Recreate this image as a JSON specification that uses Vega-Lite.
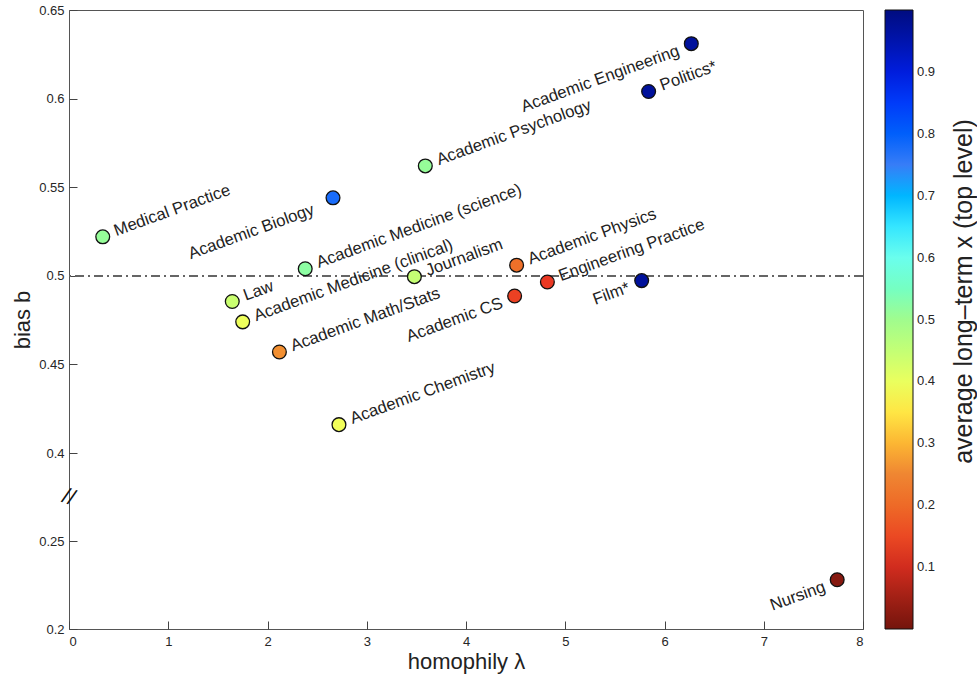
{
  "$schema": "https://vega.github.io/schema/vega-lite/v6.json",
  "width": 794,
  "height": 619,
  "autosize": "none",
  "padding": {"left": 69, "top": 10, "right": 114, "bottom": 47},
  "background": "white",
  "config": {
    "view": {"stroke": "#555", "strokeWidth": 1},
    "font": "Liberation Sans",
    "axis": {
      "domain": false,
      "grid": false,
      "ticks": true,
      "tickSize": -8,
      "tickColor": "#444",
      "tickWidth": 1,
      "labelFont": "Liberation Sans",
      "labelFontSize": 13,
      "labelColor": "#262626",
      "titleFont": "Liberation Sans",
      "titleFontSize": 22,
      "titleFontWeight": "normal",
      "titleColor": "#222"
    }
  },
  "resolve": {"axis": {"y": "independent"}},
  "data": {
    "values": [
      {"name": "Medical Practice", "lam": 0.34, "b": 0.522, "x": 0.51},
      {"name": "Academic Biology", "lam": 2.66, "b": 0.544, "x": 0.78},
      {"name": "Academic Psychology", "lam": 3.59, "b": 0.562, "x": 0.51},
      {"name": "Academic Engineering", "lam": 6.27, "b": 0.631, "x": 0.97},
      {"name": "Politics*", "lam": 5.84, "b": 0.604, "x": 0.97},
      {"name": "Academic Medicine (science)", "lam": 2.38, "b": 0.504, "x": 0.52},
      {"name": "Law", "lam": 1.645, "b": 0.4855, "x": 0.44},
      {"name": "Academic Medicine (clinical)", "lam": 1.75, "b": 0.474, "x": 0.395},
      {"name": "Academic Math/Stats", "lam": 2.12, "b": 0.457, "x": 0.26},
      {"name": "Academic Chemistry", "lam": 2.72, "b": 0.416, "x": 0.39},
      {"name": "Journalism", "lam": 3.48, "b": 0.4995, "x": 0.447},
      {"name": "Academic Physics", "lam": 4.51, "b": 0.506, "x": 0.21},
      {"name": "Academic CS", "lam": 4.49, "b": 0.4886, "x": 0.14},
      {"name": "Engineering Practice", "lam": 4.82, "b": 0.4965, "x": 0.13},
      {"name": "Film*", "lam": 5.77, "b": 0.4973, "x": 0.97},
      {"name": "Nursing", "lam": 7.74, "b": 0.228, "x": 0.02}
    ]
  },
  "encoding": {
    "x": {
      "field": "lam", "type": "quantitative",
      "scale": {"domain": [0, 8], "nice": false, "zero": false},
      "axis": {"title": "homophily λ", "values": [0,1,2,3,4,5,6,7,8], "format": "d", "labelPadding": 14, "titlePadding": 3}
    },
    "y": {
      "field": "b", "type": "quantitative",
      "scale": {"domain": [0.2, 0.25, 0.4, 0.65], "range": [619, 531, 443, 0], "nice": false, "zero": false},
      "axis": null
    }
  },
  "layer": [
    {
      "mark": {"type": "rule", "color": "#666", "strokeWidth": 1, "strokeDash": [9, 4, 2, 4]},
      "encoding": {"y": {"datum": 0.5, "scale": {"domain": [0.2, 0.25, 0.4, 0.65], "range": [619, 531, 443, 0], "nice": false, "zero": false}, "axis": null}, "x": null}
    },
    {
      "data": {"values": [{"lam": 0, "b": 0.325, "t": "//"}]},
      "mark": {"type": "text", "fontSize": 22, "angle": 20, "color": "#111", "align": "center", "baseline": "middle"},
      "encoding": {
        "text": {"field": "t"},
        "y": {
          "field": "b", "type": "quantitative",
          "scale": {"domain": [0.2, 0.25, 0.4, 0.65], "range": [619, 531, 443, 0], "nice": false, "zero": false},
          "axis": {
            "orient": "right", "title": "average long–term x (top level)",
            "labels": false, "ticks": false, "domain": false, "offset": 0,
            "titleAngle": 270, "titleX": 100, "titleY": 281,
            "titleAlign": "center", "titleBaseline": "middle",
            "titleFontSize": 25
          }
        }
      }
    },
    {
      "mark": {"type": "circle", "size": 190, "opacity": 1, "stroke": "#111", "strokeWidth": 1.3},
      "encoding": {
        "y": {
          "field": "b", "type": "quantitative",
          "scale": {"domain": [0.2, 0.25, 0.4, 0.65], "range": [619, 531, 443, 0], "nice": false, "zero": false},
          "axis": {"orient": "left", "title": "bias b", "values": [0.2, 0.25, 0.4, 0.45, 0.5, 0.55, 0.6, 0.65], "format": "~g", "labelPadding": 13, "titlePadding": 4}
        },
        "color": {
          "field": "x", "type": "quantitative",
          "scale": {
            "domain": [0, 0.125, 0.25, 0.375, 0.5, 0.625, 0.75, 0.875, 1],
            "range": ["#74140C", "#EA3323", "#EF8632", "#FFFF54", "#A0FC8E", "#75FBFD", "#377DF7", "#0022F5", "#000C80"]
          },
          "legend": {
            "orient": "none",
            "legendX": 816,
            "legendY": 0,
            "direction": "vertical",
            "gradientLength": 619,
            "gradientThickness": 28,
            "gradientStrokeColor": "#111",
            "gradientStrokeWidth": 1,
            "values": [0.1, 0.2, 0.3, 0.4, 0.5, 0.6, 0.7, 0.8, 0.9],
            "labelFont": "Liberation Sans",
            "labelFontSize": 13,
            "labelColor": "#262626",
            "labelOffset": 4,
            "labelOverlap": false,
            "title": null
          }
        }
      }
    },
    {
      "transform": [{"filter": {"not": {"field": "name", "oneOf": ["Academic Biology", "Academic Engineering", "Academic CS", "Film*", "Nursing"]}}}],
      "mark": {"type": "text", "align": "left", "baseline": "alphabetic", "angle": 340, "dx": 13, "dy": 4, "fontSize": 16.7, "color": "#222"},
      "encoding": {"text": {"field": "name"}}
    },
    {
      "transform": [{"filter": {"field": "name", "oneOf": ["Academic Engineering", "Academic CS", "Film*", "Nursing"]}}],
      "mark": {"type": "text", "align": "right", "baseline": "alphabetic", "angle": 340, "dx": -14, "dy": 7, "fontSize": 16.7, "color": "#222"},
      "encoding": {"text": {"field": "name"}}
    },
    {
      "transform": [{"filter": {"field": "name", "equal": "Academic Biology"}}],
      "mark": {"type": "text", "align": "right", "baseline": "alphabetic", "angle": 340, "dx": -22, "dy": 9, "fontSize": 16.7, "color": "#222"},
      "encoding": {"text": {"field": "name"}}
    }
  ]
}
